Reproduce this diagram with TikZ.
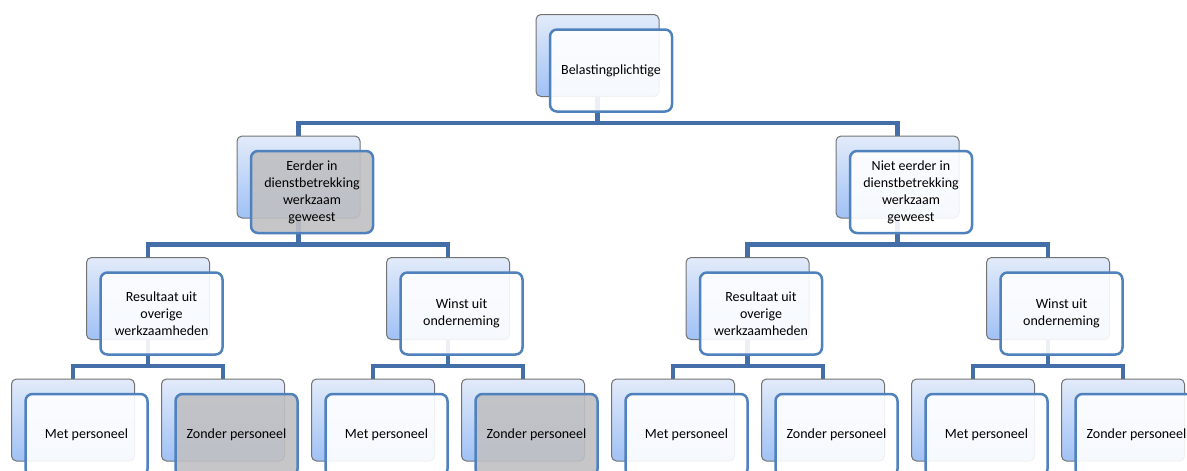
\documentclass[tikz,border=0pt]{standalone}
\usepackage{fontspec}
\setmainfont{Carlito}
\usepackage{tikz}
\usetikzlibrary{calc, backgrounds}
\definecolor{linkblue}{RGB}{68,110,168}
\definecolor{frameblue}{RGB}{79,129,189}
\definecolor{backtop}{RGB}{226,235,250}
\definecolor{backbot}{RGB}{160,193,245}
\definecolor{markgray}{RGB}{192,192,194}
\tikzset{
  backbox/.style={draw=gray!90!black, line width=1pt, rounded corners=5pt,
    top color=backtop, bottom color=backbot,
    minimum width=123pt, minimum height=82pt, inner sep=0pt},
  frontbox/.style={draw=frameblue, line width=2.5pt, rounded corners=7pt,
    fill opacity=0.9, text opacity=1, minimum width=122pt, minimum height=82pt,
    align=center, inner sep=0pt, font=\fontsize{14}{17}\selectfont},
  link/.style={draw=linkblue, line width=4.5pt},
}
% back card with its front card
\newcommand{\orgbox}[5]{%
  \node[backbox] (#1) at (#2,#3) {};
  \node[frontbox, fill=#4] (#1-f) at ($(#1)+(13.5pt,-15pt)$) {#5};
}

\begin{document}
\begin{tikzpicture}[x=1pt, y=-1pt]
  \useasboundingbox (0,0) rectangle (1187,471);
  \clip (0,0) rectangle (1187,471);
  \orgbox{bel}{597.5}{55.5}{white}{Belastingplichtige}
  \orgbox{eerder}{298.5}{177}{markgray}{Eerder in\\dienstbetrekking\\werkzaam\\geweest}
  \orgbox{niet}{897.5}{177}{white}{Niet eerder in\\dienstbetrekking\\werkzaam\\geweest}
  \orgbox{resA}{148}{298.5}{white}{Resultaat uit\\overige\\werkzaamheden}
  \orgbox{winA}{448}{298.5}{white}{Winst uit\\onderneming}
  \orgbox{resB}{747.5}{298.5}{white}{Resultaat uit\\overige\\werkzaamheden}
  \orgbox{winB}{1048}{298.5}{white}{Winst uit\\onderneming}
  \orgbox{metA}{73}{420}{white}{Met personeel}
  \orgbox{zonA}{223}{420}{markgray}{Zonder personeel}
  \orgbox{metB}{373}{420}{white}{Met personeel}
  \orgbox{zonB}{523}{420}{markgray}{Zonder personeel}
  \orgbox{metC}{673}{420}{white}{Met personeel}
  \orgbox{zonC}{823}{420}{white}{Zonder personeel}
  \orgbox{metD}{973}{420}{white}{Met personeel}
  \orgbox{zonD}{1123}{420}{white}{Zonder personeel}
  % connectors
  \begin{scope}[on background layer]
    \foreach \p/\c in {bel/eerder, bel/niet, eerder/resA, eerder/winA, niet/resB, niet/winB,
        resA/metA, resA/zonA, winA/metB, winA/zonB, resB/metC, resB/zonC, winB/metD, winB/zonD}
      \draw[link] (\p.south) -- ++(0,-26pt) -| (\c.north);
  \end{scope}
\end{tikzpicture}
\end{document}
